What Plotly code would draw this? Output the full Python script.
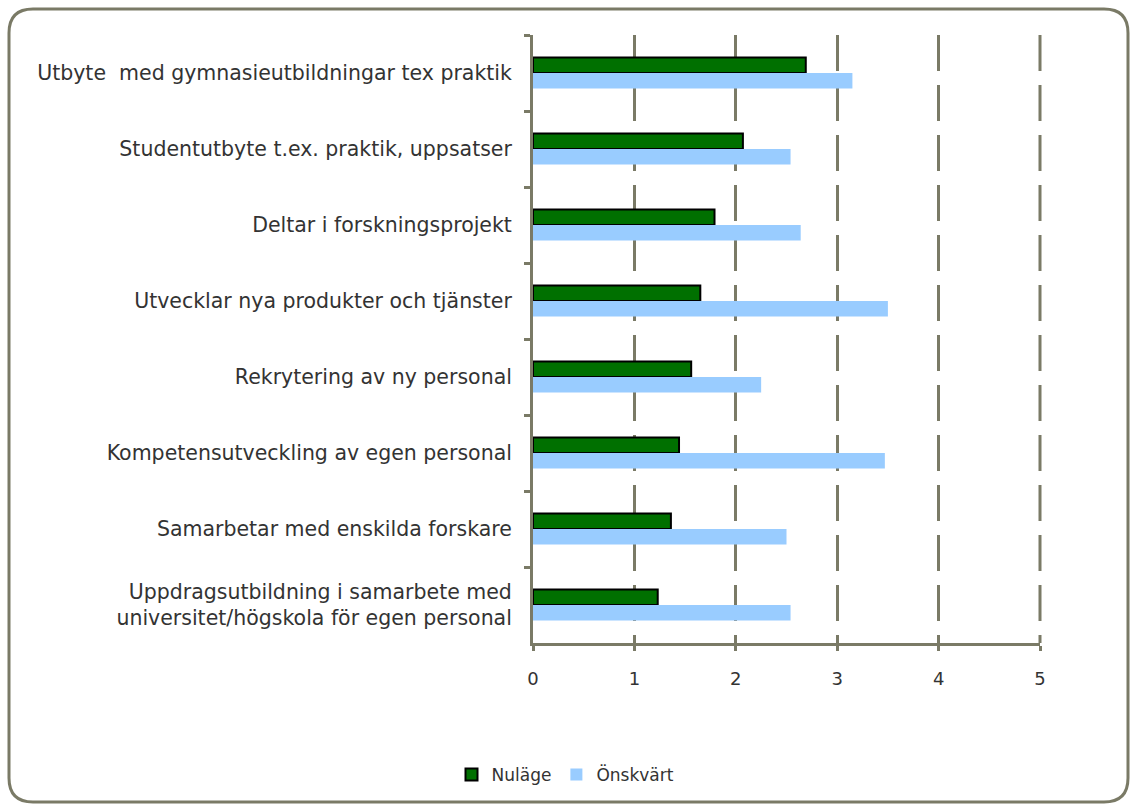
import plotly.graph_objects as go

categories = [
    "Utbyte  med gymnasieutbildningar tex praktik",
    "Studentutbyte t.ex. praktik, uppsatser",
    "Deltar i forskningsprojekt",
    "Utvecklar nya produkter och tjänster",
    "Rekrytering av ny personal",
    "Kompetensutveckling av egen personal",
    "Samarbetar med enskilda forskare",
    "Uppdragsutbildning i samarbete med<br>universitet/högskola för egen personal",
]
nulage = [2.69, 2.07, 1.79, 1.65, 1.56, 1.44, 1.36, 1.23]
onskvart = [3.15, 2.54, 2.64, 3.50, 2.25, 3.47, 2.50, 2.54]
x_ticks = [0, 1, 2, 3, 4, 5]

W, H = 1131, 804
ML, MR, MT, MB = 533, 91, 35, 161
PW, PH = W - ML - MR, H - MT - MB
axis_col = "#7a7a66"
font_fam = "DejaVu Sans, Verdana, sans-serif"

fig = go.Figure()
fig.add_trace(go.Bar(
    y=categories, x=nulage, orientation="h", name="Nuläge",
    marker=dict(color="#007000", line=dict(color="#000000", width=2)),
))
fig.add_trace(go.Bar(
    y=categories, x=onskvart, orientation="h", name="Önskvärt",
    marker=dict(color="#99ccff", line=dict(color="#99ccff", width=0)),
))

# rounded border around whole chart (converted from pixels to paper coords)
def px(x):
    return (x - ML) / PW
def py(y):
    return 1 - (y - MT) / PH

x0, y0, x1, y1, r = 9, 9, 1128, 802, 24
path = (
    f"M {px(x0 + r)},{py(y0)} L {px(x1 - r)},{py(y0)} "
    f"Q {px(x1)},{py(y0)} {px(x1)},{py(y0 + r)} "
    f"L {px(x1)},{py(y1 - r)} Q {px(x1)},{py(y1)} {px(x1 - r)},{py(y1)} "
    f"L {px(x0 + r)},{py(y1)} Q {px(x0)},{py(y1)} {px(x0)},{py(y1 - r)} "
    f"L {px(x0)},{py(y0 + r)} Q {px(x0)},{py(y0)} {px(x0 + r)},{py(y0)} Z"
)
fig.add_shape(type="path", path=path, xref="paper", yref="paper",
              line=dict(color=axis_col, width=3), layer="below")

# gridline at the right end of the value axis (plotly omits it at the edge)
x_max = x_ticks[-1]
fig.add_shape(type="line", x0=x_max / x_max, x1=x_max / x_max, y0=1, y1=0,
              xref="x domain", yref="y domain",
              line=dict(color=axis_col, width=3, dash="36px,14px"), layer="above")

fig.update_layout(
    width=W, height=H,
    margin=dict(l=ML, r=MR, t=MT, b=MB, pad=0),
    paper_bgcolor="white", plot_bgcolor="white",
    barmode="group", bargap=0.59, bargroupgap=0,
    font=dict(family=font_fam, size=16, color="#333333"),
    showlegend=True,
    legend=dict(orientation="h", x=0.5, xref="container", xanchor="center",
                y=29 / H, yref="container", yanchor="middle",
                bgcolor="rgba(0,0,0,0)",
                font=dict(size=17, color="#333333"), traceorder="normal",
                itemwidth=30, itemsizing="constant", tracegroupgap=0),
    xaxis=dict(
        range=[0, x_max], tickvals=x_ticks, ticktext=[str(v) for v in x_ticks],
        showgrid=True, gridcolor=axis_col, gridwidth=3, griddash="36px,14px",
        showline=True, linecolor=axis_col, linewidth=3,
        ticks="outside", ticklen=5, tickwidth=3, tickcolor=axis_col,
        zeroline=False, tickfont=dict(size=18, color="#333333"),
        ticklabelstandoff=12, fixedrange=True,
    ),
    yaxis=dict(
        autorange="reversed", type="category",
        showline=True, linecolor=axis_col, linewidth=3,
        ticks="outside", ticklen=6, tickwidth=3, tickcolor=axis_col,
        tickson="boundaries", showgrid=False, zeroline=False,
        tickfont=dict(size=20.5, color="#333333"),
        ticklabelstandoff=14, fixedrange=True,
    ),
)

fig.write_html("out.html")
